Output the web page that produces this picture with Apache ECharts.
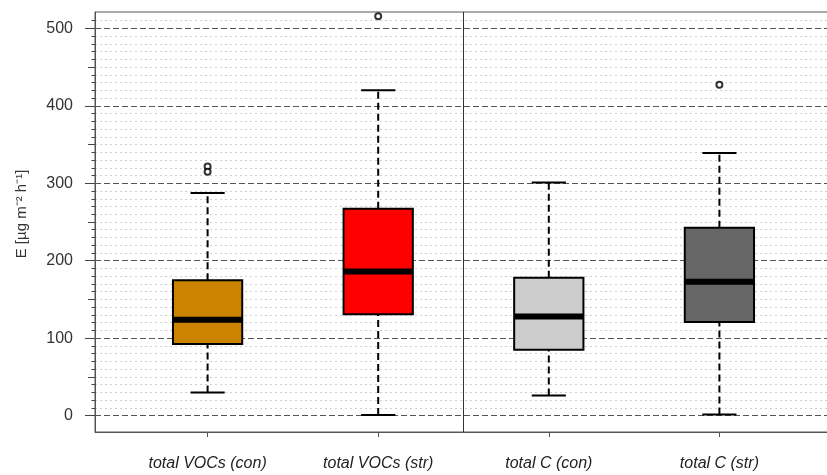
<!DOCTYPE html>
<html><head><meta charset="utf-8">
<script src="https://cdn.jsdelivr.net/npm/echarts@6/dist/echarts.min.js"></script>
<style>html,body{margin:0;padding:0;background:#fff}#c{width:827px;height:475px}</style>
</head><body><div id="c"></div>
<script>
// ---- data ----
var categories = ['total VOCs (con)', 'total VOCs (str)', 'total C (con)', 'total C (str)'];
var positions = [1, 2, 3, 4];
var lowWhisker = [30, 1, 26, 1.5];
var q1 = [92.6, 131, 85, 121];
var median = [124, 186, 128, 173];
var q3 = [174.7, 267, 178, 242.7];
var highWhisker = [287.5, 420, 301, 339];
var outlierX = [1, 1, 2, 4];
var outlierY = [321.5, 315, 515.5, 427];
var boxColors = ['#CC8400', '#FF0000', '#CCCCCC', '#666666'];
var majorTicks = [0, 100, 200, 300, 400, 500];
var mediumTicks = [50, 150, 250, 350, 450];
var minorTicks = [];
for (var v = 0; v <= 510; v += 10) minorTicks.push(v);
var dottedLines = minorTicks.filter(function (t) { return t % 100 !== 0; });
var separatorX = 2.5;

var boxData = positions.map(function (p, i) {
  return [p, lowWhisker[i], q1[i], median[i], q3[i], highWhisker[i]];
});
var outlierData = outlierX.map(function (x, i) { return [x, outlierY[i]]; });

var chart = echarts.init(document.getElementById('c'));
var FONT = '"Liberation Sans", Arial, sans-serif';
var yMin = -21, yMax = 521;
var BOXW = 0.406, CAPW = 0.2;

function baseY(extra) {
  var o = {
    type: 'value', min: yMin, max: yMax, position: 'left',
    axisLine: { show: false }, axisLabel: { show: false },
    axisTick: { show: false }, splitLine: { show: false }
  };
  for (var k in extra) o[k] = extra[k];
  return o;
}

chart.setOption({
  animation: false,
  grid: { left: 95, top: 12, width: 737, height: 420, show: true, borderColor: '#555', borderWidth: 1,
          outerBoundsMode: 'none', containLabel: false },
  xAxis: {
    type: 'value', min: 0.34, max: 4.66,
    axisLine: { show: true, onZero: false, lineStyle: { color: '#555', width: 1 } },
    axisTick: { show: true, length: 5, customValues: positions, lineStyle: { color: '#555' } },
    axisLabel: {
      show: true, customValues: positions, margin: 24,
      fontFamily: FONT, fontSize: 16, fontStyle: 'italic', color: '#222',
      formatter: function (v) { return categories[Math.round(v) - 1] || ''; }
    },
    splitLine: { show: false }
  },
  yAxis: [
    baseY({
      axisLine: { show: true, onZero: false, lineStyle: { color: '#555' } },
      axisTick: { show: true, length: 3.5, customValues: dottedLines, lineStyle: { color: '#444' } },
      splitLine: { show: true, lineStyle: { color: '#cfcfcf', type: [2, 3], width: 1 } }
    }),
    baseY({
      axisTick: { show: true, length: 7, customValues: mediumTicks, lineStyle: { color: '#444' } }
    }),
    baseY({
      axisTick: { show: true, length: 10, customValues: majorTicks, lineStyle: { color: '#444' } },
      axisLabel: { show: true, customValues: majorTicks, margin: 22, fontFamily: FONT, fontSize: 16, color: '#333' },
      splitLine: { show: true, lineStyle: { color: '#555', type: [6, 3], width: 1 } }
    })
  ],
  graphic: [{
    type: 'text', x: 22, y: 214, rotation: Math.PI / 2,
    style: { text: 'E [µg m⁻² h⁻¹]', font: '15px ' + FONT, fill: '#333', align: 'center', verticalAlign: 'middle' }
  }],
  series: [
    {
      type: 'custom', xAxisIndex: 0, yAxisIndex: 0, data: boxData,
      encode: { x: 0, y: [1, 2, 3, 4, 5] },
      renderItem: function (params, api) {
        var x = api.value(0);
        var pLo = api.coord([x, api.value(1)]);
        var pQ1 = api.coord([x, api.value(2)]);
        var pMed = api.coord([x, api.value(3)]);
        var pQ3 = api.coord([x, api.value(4)]);
        var pHi = api.coord([x, api.value(5)]);
        var w = api.size([BOXW, 0])[0];
        var cw = api.size([CAPW, 0])[0];
        var dash = { stroke: '#000', lineWidth: 2, lineDash: [7, 4] };
        var solid = { stroke: '#000', lineWidth: 2 };
        return {
          type: 'group', children: [
            { type: 'line', shape: { x1: pLo[0], y1: pLo[1], x2: pQ1[0], y2: pQ1[1] }, style: dash },
            { type: 'line', shape: { x1: pQ3[0], y1: pQ3[1], x2: pHi[0], y2: pHi[1] }, style: dash },
            { type: 'line', shape: { x1: pLo[0] - cw / 2, y1: pLo[1], x2: pLo[0] + cw / 2, y2: pLo[1] }, style: solid },
            { type: 'line', shape: { x1: pHi[0] - cw / 2, y1: pHi[1], x2: pHi[0] + cw / 2, y2: pHi[1] }, style: solid },
            { type: 'rect', shape: { x: pQ3[0] - w / 2, y: pQ3[1], width: w, height: pQ1[1] - pQ3[1] },
              style: { fill: boxColors[params.dataIndex], stroke: '#000', lineWidth: 2 } },
            { type: 'line', shape: { x1: pMed[0] - w / 2, y1: pMed[1], x2: pMed[0] + w / 2, y2: pMed[1] },
              style: { stroke: '#000', lineWidth: 6 } }
          ]
        };
      },
      markLine: {
        silent: true, symbol: 'none', label: { show: false },
        lineStyle: { color: '#333', type: 'solid', width: 1 },
        data: [{ xAxis: separatorX }]
      },
      z: 5
    },
    {
      type: 'scatter', data: outlierData, symbol: 'emptyCircle', symbolSize: 6,
      itemStyle: { color: '#000', borderColor: '#000', borderWidth: 2 }, z: 6
    }
  ]
});
</script></body></html>
